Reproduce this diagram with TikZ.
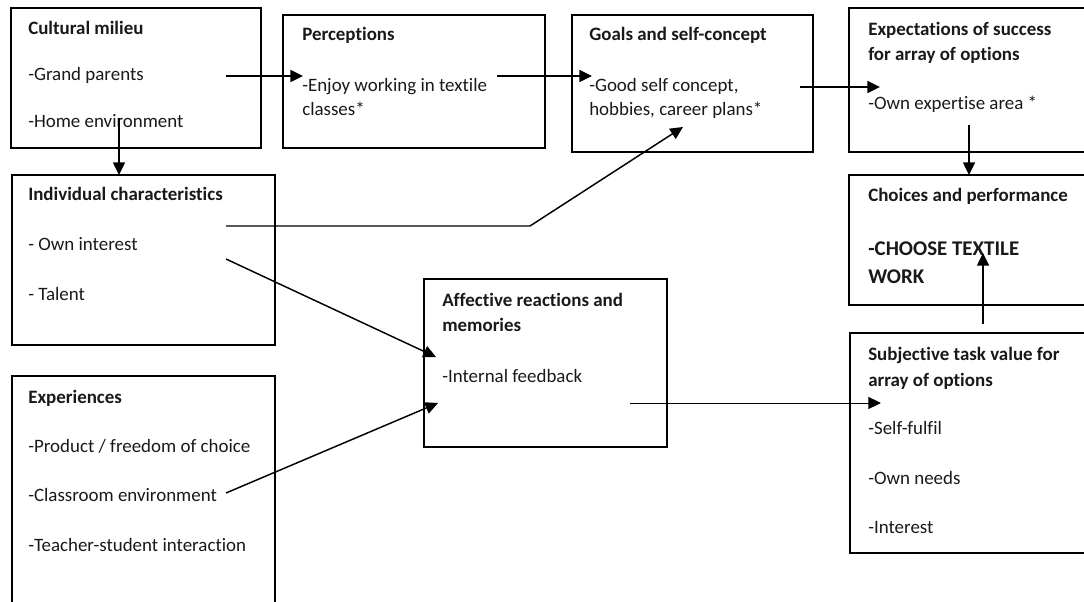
\documentclass[tikz,border=0pt]{standalone}
\usepackage{fontspec}
\setmainfont{Carlito}[Ligatures=NoCommon]
\usetikzlibrary{arrows.meta,fit}
\begin{document}
\begin{tikzpicture}[x=0.75pt,y=-0.75pt,
  box/.style={draw=black,line width=1.1pt,inner sep=0pt,fit={#1}},
  txt/.style={anchor=base west,inner sep=0pt,yshift=-0.75pt,font=\fontsize{14.2pt}{17pt}\selectfont,text=black!90},
  ttl/.style={txt,font=\fontsize{14.2pt}{17pt}\selectfont\bfseries},
  big/.style={txt,font=\fontsize{15.7pt}{19pt}\selectfont\bfseries},
  conn/.style={line width=1.1pt,-{Triangle[length=9.5pt,width=9pt]}},
  thin/.style={conn,line width=0.75pt}]
\useasboundingbox (0,0) rectangle (1084,602);

% boxes
\node (cm)  [box={(11,8) (261,148)}] {};
\node (per) [box={(283,15) (545,148)}] {};
\node (gsc) [box={(572,15) (813,152)}] {};
\node (exs) [box={(849,8) (1092,152)}] {};
\node (cho) [box={(849,175) (1092,305)}] {};
\node (ind) [box={(12,175) (275,345)}] {};
\node (aff) [box={(424,279) (667,447)}] {};
\node (exp) [box={(12,376) (275,612)}] {};
\node (stv) [box={(850,333) (1092,553)}] {};

% Cultural milieu
\node (cmT) [ttl] at (28,34) {Cultural milieu};
\node (cm1) [txt] at (28,80) {-Grand parents};
\node (cm2) [txt] at (28,127) {-Home environment};

% Perceptions
\node (perT) [ttl] at (302,40) {Perceptions};
\node (per1) [txt] at (302,91) {-Enjoy working in textile};
\node (per2) [txt] at (302,115) {classes*};

% Goals and self-concept
\node (gscT) [ttl] at (589,40) {Goals and self-concept};
\node (gsc1) [txt] at (589,91) {-Good self concept,};
\node (gsc2) [txt] at (589,115) {hobbies, career plans*};

% Expectations of success
\node (exsT1) [ttl] at (868,35) {Expectations of success};
\node (exsT2) [ttl] at (868,60) {for array of options};
\node (exs1) [txt] at (868,109) {-Own expertise area *};

% Choices and performance
\node (choT) [ttl] at (868,201) {Choices and performance};
\node (cho1) [big] at (868,254) {-CHOOSE TEXTILE};
\node (cho2) [big] at (868,282) {WORK};

% Individual characteristics
\node (indT) [ttl] at (28,200) {Individual characteristics};
\node (ind1) [txt] at (28,250) {- Own interest};
\node (ind2) [txt] at (28,299) {- Talent};

% Experiences
\node (expT) [ttl] at (28,402) {Experiences};
\node (exp1) [txt] at (28,451) {-Product / freedom of choice};
\node (exp2) [txt] at (28,500) {-Classroom environment};
\node (exp3) [txt] at (28,550) {-Teacher-student interaction};

% Affective reactions and memories
\node (affT1) [ttl] at (442,305) {Affective reactions and};
\node (affT2) [ttl] at (442,330) {memories};
\node (aff1) [txt] at (442,381) {-Internal feedback};

% Subjective task value
\node (stvT1) [ttl] at (868,359) {Subjective task value for};
\node (stvT2) [ttl] at (868,385) {array of options};
\node (stv1) [txt] at (868,433) {-Self-fulfil};
\node (stv2) [txt] at (868,483) {-Own needs};
\node (stv3) [txt] at (868,532) {-Interest};

% connector end points
\coordinate (a1) at (226,76);   \coordinate (b1) at (303,76);
\coordinate (a2) at (497,76);   \coordinate (b2) at (592,76);
\coordinate (a3) at (800,87);   \coordinate (b3) at (880,87);
\coordinate (a4) at (969,125);  \coordinate (b4) at (969,175);
\coordinate (a5) at (983,324);  \coordinate (b5) at (983,253);
\coordinate (a6) at (119,118);  \coordinate (b6) at (119,175);
\coordinate (a7) at (226,226);  \coordinate (k7) at (530,226); \coordinate (b7) at (683,127);
\coordinate (a8) at (226,259);  \coordinate (b8) at (436,357);
\coordinate (a9) at (226,493);  \coordinate (b9) at (438,403);
\coordinate (a10) at (630,403); \coordinate (b10) at (881,403);

% connectors
\draw[conn] (a1) -- (b1);
\draw[conn] (a2) -- (b2);
\draw[conn] (a3) -- (b3);
\draw[conn] (a4) -- (b4);
\draw[conn] (a5) -- (b5);
\draw[conn] (a6) -- (b6);
\draw[conn] (a7) -- (k7) -- (b7);
\draw[conn] (a8) -- (b8);
\draw[conn] (a9) -- (b9);
\draw[thin] (a10) -- (b10);
\end{tikzpicture}
\end{document}
